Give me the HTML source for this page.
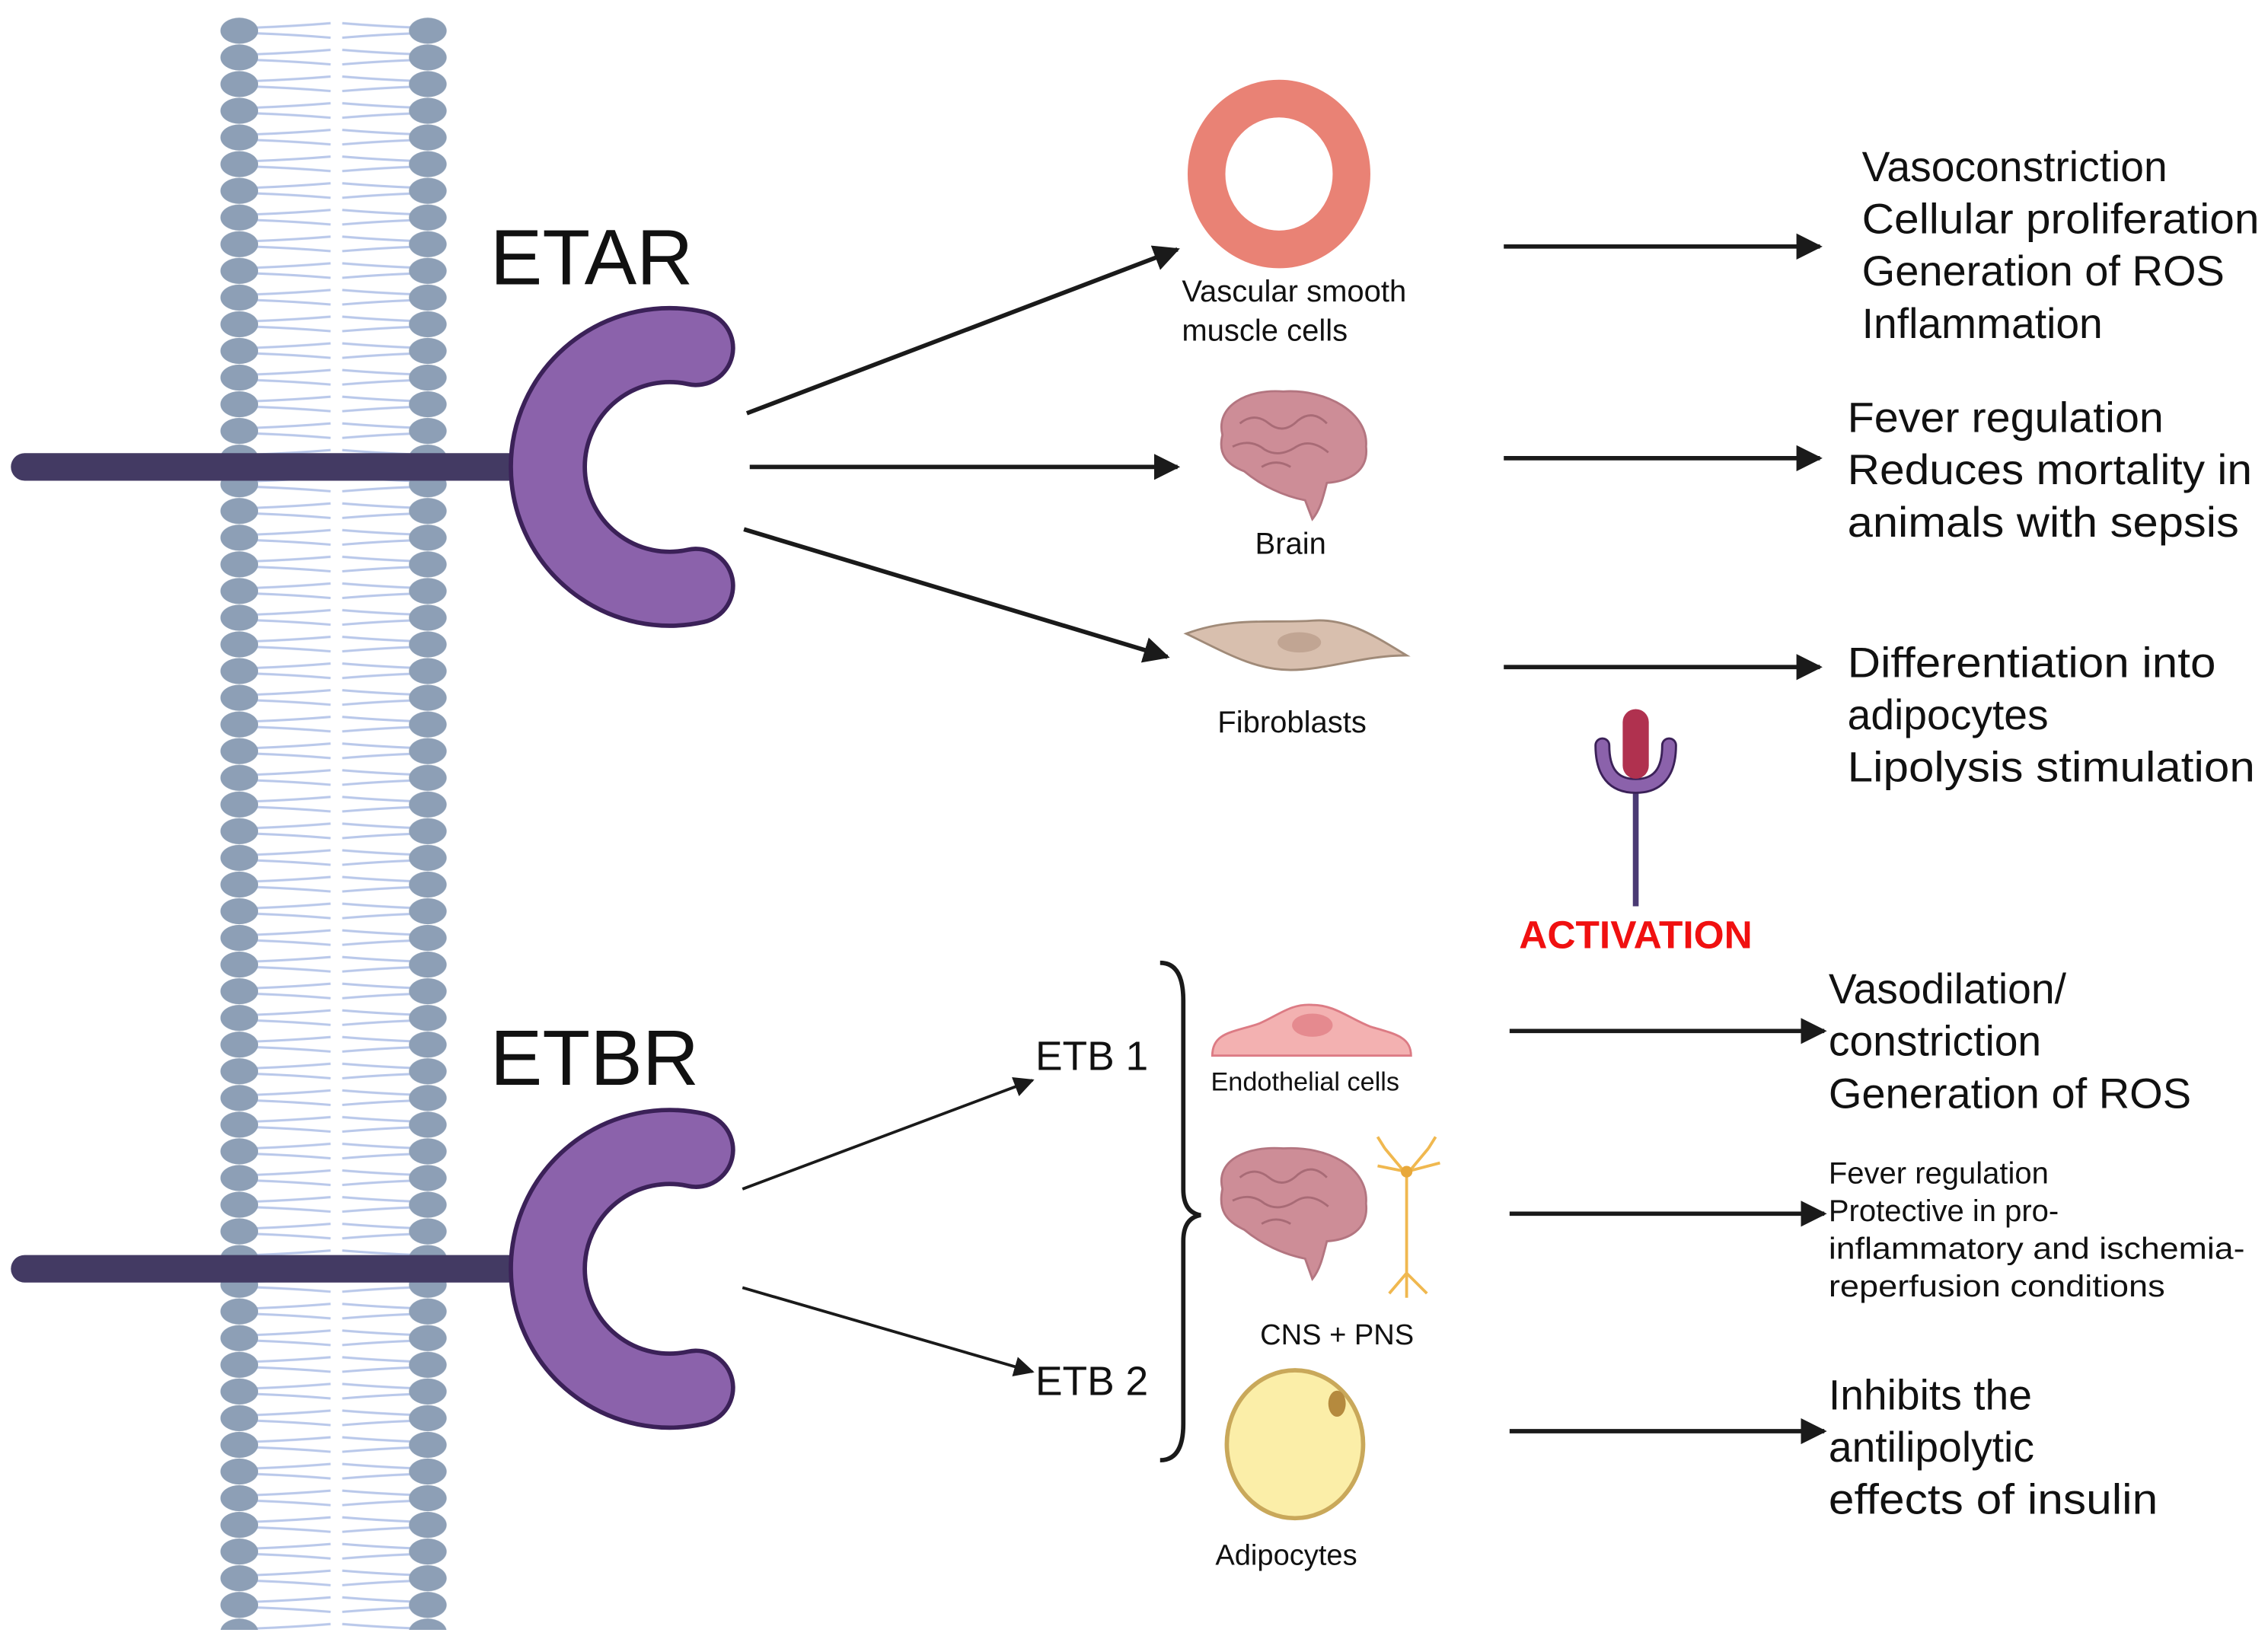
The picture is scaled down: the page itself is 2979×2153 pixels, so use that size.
<!DOCTYPE html>
<html><head><meta charset="utf-8"><style>
html,body{margin:0;padding:0;background:#fff}
svg{display:block}
text{font-family:"Liberation Sans",sans-serif;fill:#111}
</style></head><body>
<svg width="2979" height="2153" viewBox="0 0 1564 1130.3" preserveAspectRatio="none" xmlns="http://www.w3.org/2000/svg">
<defs>
<pattern id="mem" patternUnits="userSpaceOnUse" x="152" y="12" width="160" height="18.4">
<g stroke="#b9c8ea" stroke-width="1.6" fill="none">
<path d="M25 7 Q52 6 76 4 M25 11 Q52 12 76 14 M84 4 Q108 6 134 7 M84 14 Q108 12 134 11"/>
</g>
<ellipse cx="13" cy="9.2" rx="13" ry="9" fill="#8d9fb6"/>
<ellipse cx="143" cy="9.2" rx="13" ry="9" fill="#8d9fb6"/>
</pattern>
<marker id="ah" viewBox="0 0 10 10" refX="9" refY="5" markerWidth="6" markerHeight="6" orient="auto" markerUnits="strokeWidth">
<path d="M0 0 L10 5 L0 10 z" fill="#1a1a1a"/></marker>
<marker id="ah2" viewBox="0 0 10 10" refX="9" refY="5" markerWidth="7" markerHeight="7" orient="auto" markerUnits="strokeWidth">
<path d="M0 0 L10 5 L0 10 z" fill="#1a1a1a"/></marker>
</defs>
<rect width="1564" height="1131" fill="#fff"/>
<rect x="152" y="12" width="158" height="1112" fill="url(#mem)"/>

<!-- ETAR receptor -->
<line x1="17" y1="322" x2="370" y2="322" stroke="#433a63" stroke-width="19" stroke-linecap="round"/>
<path d="M480 240 A84 84 0 1 0 480 404" fill="none" stroke="#3b2158" stroke-width="54" stroke-linecap="round"/>
<path d="M480 240 A84 84 0 1 0 480 404" fill="none" stroke="#8b62ab" stroke-width="48" stroke-linecap="round"/>
<text x="338" y="196" font-size="54">ETAR</text>

<!-- ETBR receptor -->
<line x1="17" y1="875" x2="370" y2="875" stroke="#433a63" stroke-width="19" stroke-linecap="round"/>
<path d="M480 793 A84 84 0 1 0 480 957" fill="none" stroke="#3b2158" stroke-width="54" stroke-linecap="round"/>
<path d="M480 793 A84 84 0 1 0 480 957" fill="none" stroke="#8b62ab" stroke-width="48" stroke-linecap="round"/>
<text x="338" y="748" font-size="54">ETBR</text>

<!-- arrows -->
<g stroke="#1a1a1a" stroke-width="3" fill="none">
<line x1="515" y1="285" x2="812" y2="172" marker-end="url(#ah)"/>
<line x1="517" y1="322" x2="812" y2="322" marker-end="url(#ah)"/>
<line x1="513" y1="365" x2="805" y2="453" marker-end="url(#ah)"/>
<line x1="1037" y1="170" x2="1255" y2="170" marker-end="url(#ah)"/>
<line x1="1037" y1="316" x2="1255" y2="316" marker-end="url(#ah)"/>
<line x1="1037" y1="460" x2="1255" y2="460" marker-end="url(#ah)"/>
<line x1="1041" y1="711" x2="1258" y2="711" marker-end="url(#ah)"/>
<line x1="1041" y1="837" x2="1258" y2="837" marker-end="url(#ah)"/>
<line x1="1041" y1="987" x2="1258" y2="987" marker-end="url(#ah)"/>
</g>
<g stroke="#1a1a1a" stroke-width="2" fill="none">
<line x1="512" y1="820" x2="712" y2="745" marker-end="url(#ah2)"/>
<line x1="512" y1="888" x2="712" y2="946" marker-end="url(#ah2)"/>
</g>
<text x="714" y="738" font-size="28">ETB 1</text>
<text x="714" y="962" font-size="28">ETB 2</text>
<path d="M800 664 Q816 664 816 690 L816 820 Q816 836 828 838 Q816 840 816 856 L816 982 Q816 1007 800 1007" fill="none" stroke="#1a1a1a" stroke-width="3"/>

<!-- vascular ring -->
<ellipse cx="882" cy="120" rx="50" ry="52" fill="none" stroke="#e98275" stroke-width="26"/>
<text x="815" y="208" font-size="21">Vascular smooth</text>
<text x="815" y="235" font-size="21">muscle cells</text>

<!-- brain 1 -->
<g>
<path d="M843 300 C838 280 860 268 885 270 C915 268 944 285 942 308 C944 325 930 332 915 333 C912 345 910 352 905 358 L900 345 C885 342 870 335 858 325 C845 320 840 312 843 300 Z" fill="#cd8d97" stroke="#b37580" stroke-width="1.5"/>
<path d="M855 292 q10 -8 20 0 q10 8 20 -2 q10 -8 20 2 M850 308 q12 -6 22 2 q10 6 22 -2 q10 -6 22 4 M870 322 q10 -6 20 0" stroke="#a86b76" stroke-width="1.5" fill="none"/>
</g>
<text x="890" y="382" font-size="21" text-anchor="middle">Brain</text>

<!-- fibroblast -->
<path d="M818 437 C850 425 880 430 905 428 C930 426 950 440 970 452 C940 452 915 462 890 462 C865 462 845 450 818 437 Z" fill="#d8bfae" stroke="#a08a78" stroke-width="1.5"/>
<ellipse cx="896" cy="443" rx="15" ry="7" fill="#c1a593"/>
<text x="891" y="505" font-size="21" text-anchor="middle">Fibroblasts</text>

<!-- activation icon -->
<line x1="1128" y1="535" x2="1128" y2="625" stroke="#4a3a74" stroke-width="4"/>
<path d="M1105 514 Q1105 542 1128 542 Q1151 542 1151 514" fill="none" stroke="#3b2158" stroke-width="11" stroke-linecap="round"/>
<path d="M1105 514 Q1105 542 1128 542 Q1151 542 1151 514" fill="none" stroke="#8b62ab" stroke-width="8" stroke-linecap="round"/>
<rect x="1119" y="489" width="18" height="48" rx="9" fill="#b0314f"/>
<text x="1128" y="654" font-size="27" font-weight="bold" text-anchor="middle" style="fill:#f01010">ACTIVATION</text>

<!-- endothelial -->
<path d="M836 728 C836 712 850 712 868 706 C882 700 890 692 905 693 C920 693 930 702 945 708 C962 713 973 715 973 728 Z" fill="#f3b1b1" stroke="#dc7b84" stroke-width="1.5"/>
<ellipse cx="905" cy="707" rx="14" ry="8" fill="#e58a8f"/>
<text x="900" y="752" font-size="18" text-anchor="middle">Endothelial cells</text>

<!-- brain 2 -->
<g>
<path d="M843 820 C838 800 860 790 885 792 C915 790 944 805 942 830 C944 848 930 855 915 856 C912 868 910 876 905 882 L900 868 C885 865 870 858 858 848 C845 842 840 834 843 820 Z" fill="#cd8d97" stroke="#b37580" stroke-width="1.5"/>
<path d="M855 812 q10 -8 20 0 q10 8 20 -2 q10 -8 20 2 M850 828 q12 -6 22 2 q10 6 22 -2 q10 -6 22 4 M870 844 q10 -6 20 0" stroke="#a86b76" stroke-width="1.5" fill="none"/>
</g>
<g stroke="#f0b84f" stroke-width="2" fill="none">
<path d="M970 810 L970 878 M970 810 L955 792 M970 810 L985 792 M970 808 L950 804 M970 808 L993 802 M955 792 L950 784 M985 792 L990 784 M970 878 L958 892 M970 878 L984 892 M970 878 L970 895"/>
</g>
<circle cx="970" cy="808" r="4" fill="#e8a83a"/>
<text x="922" y="927" font-size="20" text-anchor="middle">CNS + PNS</text>

<!-- adipocyte -->
<ellipse cx="893" cy="996" rx="47" ry="51" fill="#fbeea8" stroke="#c9a85a" stroke-width="3"/>
<ellipse cx="922" cy="968" rx="6" ry="9" fill="#b58a3e"/>
<text x="887" y="1079" font-size="20" text-anchor="middle">Adipocytes</text>

<!-- right text -->
<g font-size="29">
<text x="1284" y="125">Vasoconstriction</text>
<text x="1284" y="161" textLength="274" lengthAdjust="spacingAndGlyphs">Cellular proliferation</text>
<text x="1284" y="197" textLength="250" lengthAdjust="spacingAndGlyphs">Generation of ROS</text>
<text x="1284" y="233">Inflammation</text>
<text x="1274" y="298" textLength="218" lengthAdjust="spacingAndGlyphs">Fever regulation</text>
<text x="1274" y="334" textLength="279" lengthAdjust="spacingAndGlyphs">Reduces mortality in</text>
<text x="1274" y="370" textLength="270" lengthAdjust="spacingAndGlyphs">animals with sepsis</text>
<text x="1274" y="467" textLength="254" lengthAdjust="spacingAndGlyphs">Differentiation into</text>
<text x="1274" y="503">adipocytes</text>
<text x="1274" y="539" textLength="281" lengthAdjust="spacingAndGlyphs">Lipolysis stimulation</text>
<text x="1261" y="692">Vasodilation/</text>
<text x="1261" y="728">constriction</text>
<text x="1261" y="764" textLength="250" lengthAdjust="spacingAndGlyphs">Generation of ROS</text>
<text x="1261" y="972">Inhibits the</text>
<text x="1261" y="1008">antilipolytic</text>
<text x="1261" y="1044" textLength="227" lengthAdjust="spacingAndGlyphs">effects of insulin</text>
</g>
<g font-size="21">
<text x="1261" y="816">Fever regulation</text>
<text x="1261" y="842">Protective in pro-</text>
<text x="1261" y="868" textLength="287" lengthAdjust="spacingAndGlyphs">inflammatory and ischemia-</text>
<text x="1261" y="894" textLength="232" lengthAdjust="spacingAndGlyphs">reperfusion conditions</text>
</g>
</svg>
</body></html>
